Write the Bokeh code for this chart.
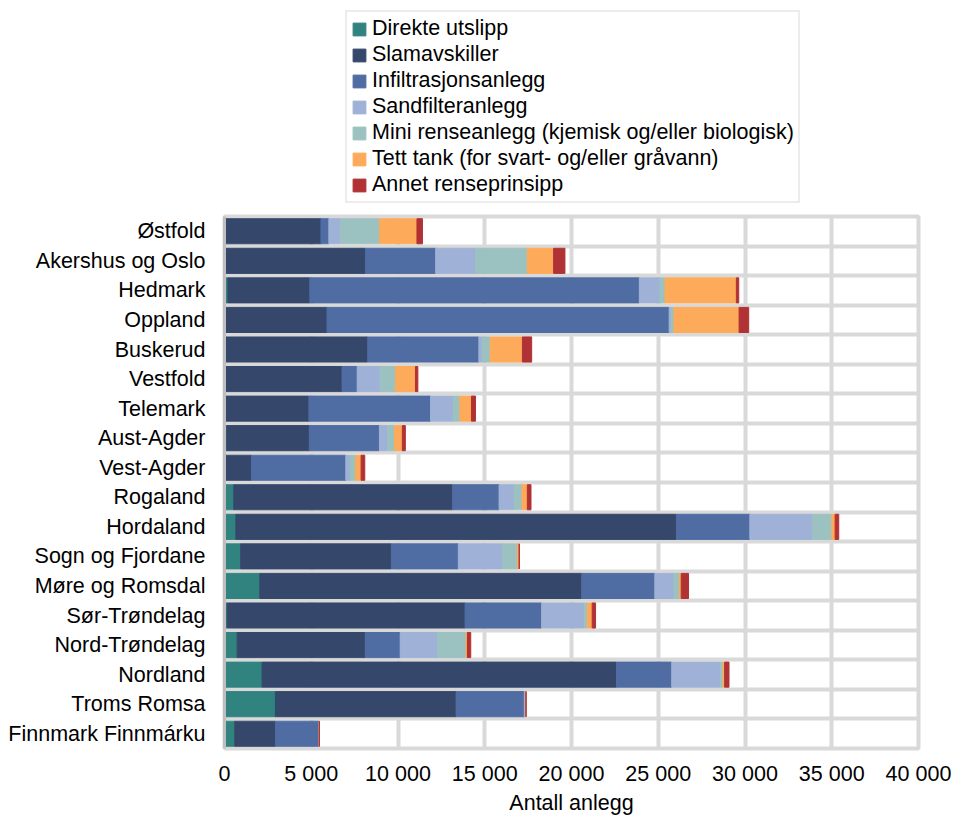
from bokeh.plotting import figure
from bokeh.models import ColumnDataSource, Range1d, FixedTicker, Legend
from bokeh.layouts import column
from bokeh.embed import file_html
from bokeh.resources import INLINE

regions = ["Østfold", "Akershus og Oslo", "Hedmark", "Oppland", "Buskerud", "Vestfold",
           "Telemark", "Aust-Agder", "Vest-Agder", "Rogaland", "Hordaland",
           "Sogn og Fjordane", "Møre og Romsdal", "Sør-Trøndelag", "Nord-Trøndelag",
           "Nordland", "Troms Romsa", "Finnmark Finnmárku"]

direkte  = [0, 100, 198, 0, 0, 0, 0, 134, 0, 536, 655, 936, 2036, 153, 729, 2167, 2935, 595]
slam     = [5560, 8021, 4722, 5908, 8259, 6777, 4866, 4752, 1551, 12608, 25389, 8681, 18556, 13714, 7384, 20427, 10414, 2340]
infil    = [455, 4051, 18990, 19721, 6403, 870, 7012, 4043, 5442, 2682, 4236, 3861, 4212, 4412, 2014, 3184, 3932, 2531]
sand     = [652, 2312, 1185, 138, 198, 1324, 1303, 479, 268, 862, 3603, 2551, 1100, 2455, 2148, 2800, 96, 0]
mini     = [2272, 2964, 297, 138, 454, 889, 383, 383, 287, 460, 1123, 866, 327, 172, 1650, 153, 0, 0]
tett     = [2154, 1522, 4110, 3755, 1857, 1146, 671, 460, 326, 307, 188, 93, 94, 288, 76, 96, 0, 0]
annet    = [316, 652, 138, 553, 534, 138, 230, 172, 211, 210, 210, 0, 421, 192, 192, 250, 0, 0]

series_keys = ["direkte", "slam", "infil", "sand", "mini", "tett", "annet"]
series_labels = ["Direkte utslipp", "Slamavskiller", "Infiltrasjonsanlegg", "Sandfilteranlegg",
                 "Mini renseanlegg (kjemisk og/eller biologisk)",
                 "Tett tank (for svart- og/eller gråvann)", "Annet renseprinsipp"]
colors = ["#31837f", "#35476b", "#4f6ca3", "#9fb1d6", "#9bc2c0", "#fdab5a", "#b03235"]

x_ticks = [0, 5000, 10000, 15000, 20000, 25000, 30000, 35000, 40000]
x_tick_labels = ["0", "5 000", "10 000", "15 000", "20 000", "25 000", "30 000", "35 000", "40 000"]

ypos = list(range(len(regions)))
source = ColumnDataSource(dict(y=ypos, direkte=direkte, slam=slam, infil=infil, sand=sand,
                               mini=mini, tett=tett, annet=annet))

FONT = "Liberation Sans"
FS = "21.5px"

# ---------------- legend strip (its own figure; its view shows none of the bars) ----------------
pl = figure(width=955, height=213, output_backend="svg", toolbar_location=None,
            x_range=Range1d(0, 1), y_range=Range1d(100, 101),
            x_axis_location=None, y_axis_location=None,
            min_border=0)
pl.grid.visible = False
pl.outline_line_color = None
pl.background_fill_color = "white"
pl.border_fill_color = "white"

swatches = pl.hbar_stack(series_keys, y="y", height=0.85, color=colors, line_width=1,
                         source=source)

legend = Legend(items=[(lab, [r]) for lab, r in zip(series_labels, swatches)])
legend.location = (121, 10)
legend.orientation = "vertical"
legend.label_text_font = FONT
legend.label_text_font_size = FS
legend.label_text_color = "black"
legend.glyph_width = 16
legend.glyph_height = 16
legend.label_height = 23
legend.spacing = 1
legend.padding = 4
legend.margin = 0
legend.label_standoff = 5
legend.border_line_color = "#d9d9d9"
legend.border_line_width = 2
legend.background_fill_alpha = 1
pl.add_layout(legend, "center")

# ---------------- main chart ----------------
p = figure(width=955, height=604, output_backend="svg", toolbar_location=None,
           x_range=Range1d(0, 40000), y_range=Range1d(len(regions) - 0.5, -0.5),
           min_border_left=224, min_border_right=37, min_border_bottom=0, min_border_top=3)

p.hbar_stack(series_keys, y="y", height=0.85, color=colors, line_width=1, source=source)

p.background_fill_color = "white"
p.border_fill_color = "white"
p.outline_line_color = "#d9d9d9"
p.outline_line_width = 4

p.xgrid.ticker = FixedTicker(ticks=x_ticks)
p.xgrid.grid_line_color = "#d9d9d9"
p.xgrid.grid_line_width = 4
p.ygrid.ticker = FixedTicker(ticks=[i + 0.5 for i in range(len(regions) - 1)])
p.ygrid.grid_line_color = "#d9d9d9"
p.ygrid.grid_line_width = 4

p.xaxis.ticker = FixedTicker(ticks=x_ticks)
p.xaxis.major_label_overrides = {t: l for t, l in zip(x_ticks, x_tick_labels)}
p.xaxis.axis_line_color = None
p.xaxis.major_tick_line_color = None
p.xaxis.minor_tick_line_color = None
p.xaxis.major_tick_out = 0
p.xaxis.major_tick_in = 0
p.xaxis.major_label_standoff = 13
p.xaxis.major_label_text_font = FONT
p.xaxis.major_label_text_font_size = FS
p.xaxis.major_label_text_color = "black"
p.xaxis.axis_label = "Antall anlegg"
p.xaxis.axis_label_text_font = FONT
p.xaxis.axis_label_text_font_size = FS
p.xaxis.axis_label_text_font_style = "normal"
p.xaxis.axis_label_text_color = "black"
p.xaxis.axis_label_standoff = 2

p.yaxis.ticker = FixedTicker(ticks=ypos)
p.yaxis.major_label_overrides = {i: r for i, r in zip(ypos, regions)}
p.yaxis.axis_line_color = "#bfbfbf"
p.yaxis.axis_line_width = 3
p.yaxis.major_tick_line_color = None
p.yaxis.minor_tick_line_color = None
p.yaxis.major_tick_out = 0
p.yaxis.major_tick_in = 0
p.yaxis.major_label_standoff = 19
p.yaxis.major_label_text_font = FONT
p.yaxis.major_label_text_font_size = FS
p.yaxis.major_label_text_color = "black"

layout = column(pl, p, spacing=0)
open("out.html", "w").write(file_html(layout, INLINE))
